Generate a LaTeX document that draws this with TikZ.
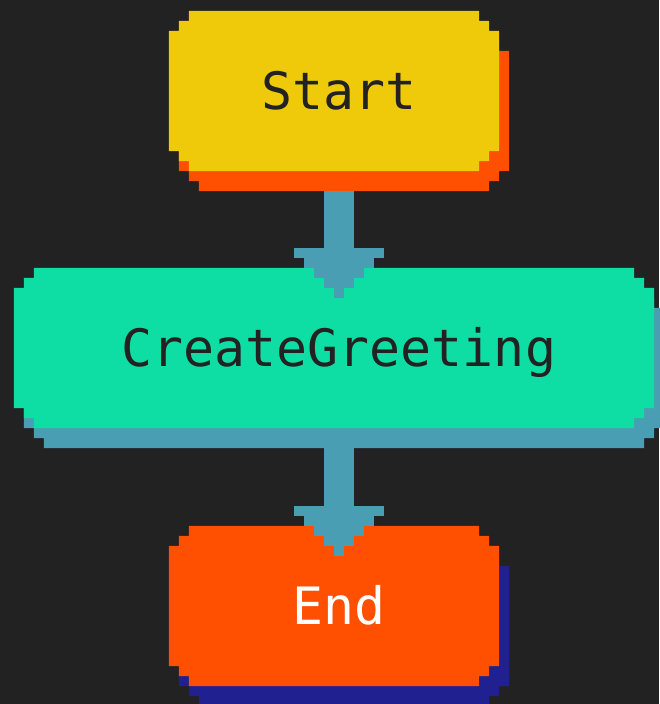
\documentclass[tikz,border=0pt]{standalone}
\usepackage{fontspec}
\setmonofont{DejaVu Sans Mono}

\definecolor{bgdark}{HTML}{222222}
\definecolor{startfill}{HTML}{EECA0A}
\definecolor{hotorange}{HTML}{FF4F00}
\definecolor{greetfill}{HTML}{0EDEA4}
\definecolor{steel}{HTML}{4A9EB4}
\definecolor{navy}{HTML}{202090}

\pgfdeclarelayer{back}
\pgfsetlayers{back,main}

\tikzset{
  block/.style={minimum height=160pt, inner sep=0pt, text height=38pt, text depth=0pt,
    font=\ttfamily\fontsize{51.5}{51.5}\selectfont, execute at begin node=\hspace*{10pt}},
  wire/.style={fill=steel},
  shade/.style={transform canvas={shift={(10pt,-20pt)}}}
}

% stepped box round a node
\newcommand\pixfill[2]{%
  \fill[#2] ([xshift=20pt]#1.north west) -- ([xshift=-20pt]#1.north east)
    -- ++(0,-10) -- ++(10,0) -- ++(0,-10) -- ++(10,0)
    -- ([yshift=20pt]#1.south east)
    -- ++(-10,0) -- ++(0,-10) -- ++(-10,0) -- ++(0,-10)
    -- ([xshift=20pt]#1.south west)
    -- ++(0,10) -- ++(-10,0) -- ++(0,10) -- ++(-10,0)
    -- ([yshift=-20pt]#1.north west)
    -- ++(10,0) -- ++(0,10) -- ++(10,0) -- cycle;}

% stepped arrow from one box to the next
\newcommand\pixarrow[2]{%
  \fill[wire] ([xshift=-10pt,yshift=-20pt]#1.south) rectangle ([xshift=20pt,yshift=20pt]#2.north);
  \foreach \i in {0,...,4}
    \fill[wire] ([xshift=-40pt+10pt*\i,yshift=20pt-10pt*\i]#2.north)
      rectangle ([xshift=50pt-10pt*\i,yshift=10pt-10pt*\i]#2.north);}

\begin{document}
\begin{tikzpicture}[x=1pt,y=1pt]
\useasboundingbox (0,0) rectangle (659,704);
\node[block, minimum width=330pt, text=bgdark] (start) at (334,613) {Start};
\node[block, minimum width=640pt, text=bgdark] (greet) at (334,356) {CreateGreeting};
\node[block, minimum width=330pt, text=white] (stop) at (334,98) {End};

\begin{pgfonlayer}{back}
\fill[bgdark] (0,0) rectangle (659,704);
\pixfill{start}{hotorange, shade}
\pixfill{greet}{steel, shade}
\pixfill{stop}{navy, shade}
\pixfill{start}{startfill}
\pixfill{greet}{greetfill}
\pixfill{stop}{hotorange}
\pixarrow{start}{greet}
\pixarrow{greet}{stop}
\end{pgfonlayer}
\end{tikzpicture}
\end{document}
